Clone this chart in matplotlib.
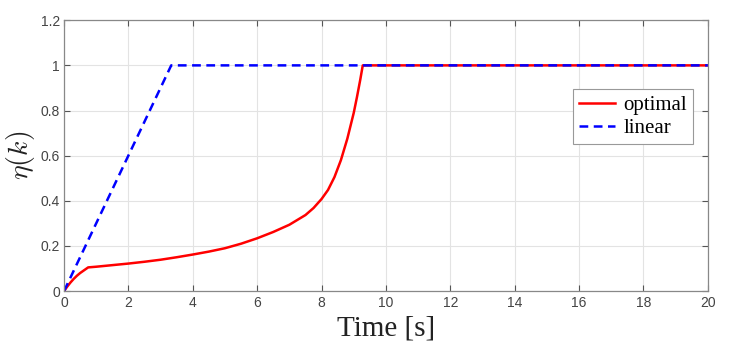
import matplotlib
matplotlib.use('Agg')
from matplotlib import pyplot as plt

# optimal eta(k)
opt_t = [0, 0.1, 0.2, 0.3, 0.4, 0.5, 0.6, 0.75, 1.0, 1.5, 2.0, 2.5, 3.0, 3.5, 4.0, 4.5,
         5.0, 5.5, 6.0, 6.5, 7.0, 7.5, 7.75, 8.0, 8.2, 8.4, 8.6, 8.8, 9.0, 9.1, 9.2,
         9.28, 20]
opt_eta = [0, 0.02, 0.038, 0.054, 0.068, 0.08, 0.09, 0.105, 0.108, 0.115, 0.122, 0.13,
           0.139, 0.15, 0.162, 0.175, 0.19, 0.21, 0.234, 0.262, 0.294, 0.337, 0.368, 0.408,
           0.448, 0.505, 0.58, 0.675, 0.79, 0.86, 0.935, 1.0, 1.0]
# linear eta(k)
lin_t = [0, 3.33, 20]
lin_eta = [0, 1.0, 1.0]

x_ticks = list(range(0, 21, 2))
y_ticks = [0, 0.2, 0.4, 0.6, 0.8, 1, 1.2]
y_tick_labels = ['0', '0.2', '0.4', '0.6', '0.8', '1', '1.2']

plt.rcParams['mathtext.fontset'] = 'cm'

fig = plt.figure(figsize=(7.3, 3.55), dpi=100)
ax = fig.add_axes([0.0877, 0.18, 0.882, 0.763])

ax.plot(opt_t, opt_eta, color='#ff0000', lw=1.8, label='optimal')
ax.plot(lin_t, lin_eta, color='#0000ff', lw=1.8, ls=(0, (3.5, 2.2)), label='linear')

ax.set_xlim(0, 20)
ax.set_ylim(0, 1.2)
ax.set_xticks(x_ticks)
ax.set_yticks(y_ticks)
ax.set_yticklabels(y_tick_labels)
ax.grid(True, color='#e3e3e3', lw=0.8)
ax.set_axisbelow(True)
ax.tick_params(direction='in', top=True, right=True, length=4, width=0.8,
               colors='#555555', labelsize=10, labelcolor='#444444')
ax.tick_params(axis='y', pad=3)
for lbl in ax.get_xticklabels() + ax.get_yticklabels():
    lbl.set_family('Liberation Sans')
for s in ax.spines.values():
    s.set_color('#888888')
    s.set_linewidth(0.9)

ax.set_xlabel('Time [s]', family='Liberation Serif', size=21, color='#222222', labelpad=4)
ax.set_ylabel(r'$\eta(k)$', size=20, color='#222222')
ax.yaxis.set_label_coords(-0.042, 0.5)

leg = ax.legend(loc='upper right', bbox_to_anchor=(0.977, 0.745),
                prop={'family': 'Liberation Serif', 'size': 15},
                fancybox=False, edgecolor='#999999', framealpha=1,
                handlelength=1.7, handletextpad=0.4, borderpad=0.3,
                labelspacing=0.15, borderaxespad=0)
leg.get_frame().set_linewidth(0.8)

plt.savefig('out.png', dpi=100)
